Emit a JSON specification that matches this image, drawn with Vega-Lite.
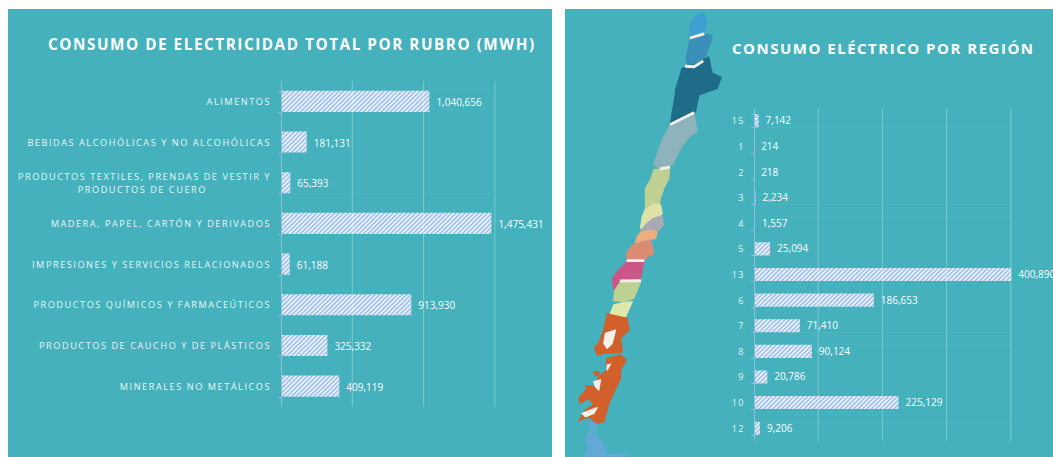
{"$schema":"https://vega.github.io/schema/vega-lite/v6.json","background":"white","padding":{"left":8,"top":5,"right":0,"bottom":0},"spacing":13,"bounds":"flush","config":{"view":{"stroke":null}},"hconcat":[
{"width":544,"height":448,"view":{"fill":"#44b1bd","stroke":null},
"title":{"text":{"expr":"join(split('CONSUMO DE ELECTRICIDAD TOTAL POR RUBRO (MWH)',''),'\u200a')"},"anchor":"start","frame":"group","dx":40,"offset":-48,"color":"white","font":"Open Sans","fontWeight":"bold","fontSize":15.3},
"resolve":{"scale":{"y":"independent"}},
"layer":[
{"data":{"values":[{"rubro":"ALIMENTOS","mwh":1040656},{"rubro":"BEBIDAS ALCOHÓLICAS Y NO ALCOHÓLICAS","mwh":181131},{"rubro":"PRODUCTOS TEXTILES, PRENDAS DE VESTIR Y PRODUCTOS DE CUERO","mwh":65393},{"rubro":"MADERA, PAPEL, CARTÓN Y DERIVADOS","mwh":1475431},{"rubro":"IMPRESIONES Y SERVICIOS RELACIONADOS","mwh":61188},{"rubro":"PRODUCTOS QUÍMICOS Y FARMACEÚTICOS","mwh":913930},{"rubro":"PRODUCTOS DE CAUCHO Y DE PLÁSTICOS","mwh":325332},{"rubro":"MINERALES NO METÁLICOS","mwh":409119}]},
"encoding":{"y":{"field":"rubro","type":"nominal","sort":null,"title":null,"scale":{"domain":["ALIMENTOS","BEBIDAS ALCOHÓLICAS Y NO ALCOHÓLICAS","PRODUCTOS TEXTILES, PRENDAS DE VESTIR Y PRODUCTOS DE CUERO","MADERA, PAPEL, CARTÓN Y DERIVADOS","IMPRESIONES Y SERVICIOS RELACIONADOS","PRODUCTOS QUÍMICOS Y FARMACEÚTICOS","PRODUCTOS DE CAUCHO Y DE PLÁSTICOS","MINERALES NO METÁLICOS"],"range":[72,397.5],"paddingInner":0.48,"paddingOuter":0.24},"axis":{"orient":"left","offset":-273,"zindex":1,"domainColor":"#8fbfdc","tickColor":"#8fbfdc","tickSize":3,"tickBand":"extent","grid":false,"labelPadding":9,"labelColor":"#eaf6f6","labelFont":"Open Sans","labelFontSize":9.2,"labelLimit":400,"labelOverlap":false,"labelBound":false,"labelLineHeight":13,"labelOffset":{"condition":{"test":"indexof(datum.label,'CUERO')>=0","value":-6.5},"value":0},"labelExpr":"indexof(datum.label,'CUERO')>=0 ? [join(split('PRODUCTOS TEXTILES, PRENDAS DE VESTIR Y',''),'\u2009'), join(split('PRODUCTOS DE CUERO\u00a0\u00a0\u00a0\u00a0\u00a0\u00a0\u00a0\u00a0\u00a0\u00a0\u00a0\u00a0\u00a0\u00a0\u00a0\u00a0\u200b',''),'\u2009')] : join(split(datum.label,''),'\u2009')"}}},
"layer":[
{"mark":{"type":"bar","fill":{"gradient":"linear","x1":0,"y1":0,"x2":1.3184,"y2":0.1325,"stops":[{"offset":0,"color":"#8db5ea"},{"offset":0.008,"color":"#fff"},{"offset":0.016,"color":"#8db5ea"},{"offset":0.024,"color":"#fff"},{"offset":0.032,"color":"#8db5ea"},{"offset":0.04,"color":"#fff"},{"offset":0.048,"color":"#8db5ea"},{"offset":0.056,"color":"#fff"},{"offset":0.064,"color":"#8db5ea"},{"offset":0.072,"color":"#fff"},{"offset":0.08,"color":"#8db5ea"},{"offset":0.088,"color":"#fff"},{"offset":0.096,"color":"#8db5ea"},{"offset":0.104,"color":"#fff"},{"offset":0.112,"color":"#8db5ea"},{"offset":0.12,"color":"#fff"},{"offset":0.128,"color":"#8db5ea"},{"offset":0.136,"color":"#fff"},{"offset":0.144,"color":"#8db5ea"},{"offset":0.152,"color":"#fff"},{"offset":0.16,"color":"#8db5ea"},{"offset":0.168,"color":"#fff"},{"offset":0.176,"color":"#8db5ea"},{"offset":0.184,"color":"#fff"},{"offset":0.192,"color":"#8db5ea"},{"offset":0.2,"color":"#fff"},{"offset":0.208,"color":"#8db5ea"},{"offset":0.216,"color":"#fff"},{"offset":0.224,"color":"#8db5ea"},{"offset":0.232,"color":"#fff"},{"offset":0.24,"color":"#8db5ea"},{"offset":0.248,"color":"#fff"},{"offset":0.256,"color":"#8db5ea"},{"offset":0.264,"color":"#fff"},{"offset":0.272,"color":"#8db5ea"},{"offset":0.28,"color":"#fff"},{"offset":0.288,"color":"#8db5ea"},{"offset":0.296,"color":"#fff"},{"offset":0.304,"color":"#8db5ea"},{"offset":0.312,"color":"#fff"},{"offset":0.32,"color":"#8db5ea"},{"offset":0.328,"color":"#fff"},{"offset":0.336,"color":"#8db5ea"},{"offset":0.344,"color":"#fff"},{"offset":0.352,"color":"#8db5ea"},{"offset":0.36,"color":"#fff"},{"offset":0.368,"color":"#8db5ea"},{"offset":0.376,"color":"#fff"},{"offset":0.384,"color":"#8db5ea"},{"offset":0.392,"color":"#fff"},{"offset":0.4,"color":"#8db5ea"},{"offset":0.408,"color":"#fff"},{"offset":0.416,"color":"#8db5ea"},{"offset":0.424,"color":"#fff"},{"offset":0.432,"color":"#8db5ea"},{"offset":0.44,"color":"#fff"},{"offset":0.448,"color":"#8db5ea"},{"offset":0.456,"color":"#fff"},{"offset":0.464,"color":"#8db5ea"},{"offset":0.472,"color":"#fff"},{"offset":0.48,"color":"#8db5ea"},{"offset":0.488,"color":"#fff"},{"offset":0.496,"color":"#8db5ea"},{"offset":0.504,"color":"#fff"},{"offset":0.512,"color":"#8db5ea"},{"offset":0.52,"color":"#fff"},{"offset":0.528,"color":"#8db5ea"},{"offset":0.536,"color":"#fff"},{"offset":0.544,"color":"#8db5ea"},{"offset":0.552,"color":"#fff"},{"offset":0.56,"color":"#8db5ea"},{"offset":0.568,"color":"#fff"},{"offset":0.576,"color":"#8db5ea"},{"offset":0.584,"color":"#fff"},{"offset":0.592,"color":"#8db5ea"},{"offset":0.6,"color":"#fff"},{"offset":0.608,"color":"#8db5ea"},{"offset":0.616,"color":"#fff"},{"offset":0.624,"color":"#8db5ea"},{"offset":0.632,"color":"#fff"},{"offset":0.64,"color":"#8db5ea"},{"offset":0.648,"color":"#fff"},{"offset":0.656,"color":"#8db5ea"},{"offset":0.664,"color":"#fff"},{"offset":0.672,"color":"#8db5ea"},{"offset":0.68,"color":"#fff"},{"offset":0.688,"color":"#8db5ea"},{"offset":0.696,"color":"#fff"},{"offset":0.704,"color":"#8db5ea"},{"offset":0.712,"color":"#fff"},{"offset":0.72,"color":"#8db5ea"},{"offset":0.728,"color":"#fff"},{"offset":0.736,"color":"#8db5ea"},{"offset":0.744,"color":"#fff"},{"offset":0.752,"color":"#8db5ea"},{"offset":0.76,"color":"#fff"},{"offset":0.768,"color":"#8db5ea"},{"offset":0.776,"color":"#fff"},{"offset":0.784,"color":"#8db5ea"},{"offset":0.792,"color":"#fff"},{"offset":0.8,"color":"#8db5ea"},{"offset":0.808,"color":"#fff"},{"offset":0.816,"color":"#8db5ea"},{"offset":0.824,"color":"#fff"},{"offset":0.832,"color":"#8db5ea"},{"offset":0.84,"color":"#fff"},{"offset":0.848,"color":"#8db5ea"},{"offset":0.856,"color":"#fff"},{"offset":0.864,"color":"#8db5ea"},{"offset":0.872,"color":"#fff"},{"offset":0.88,"color":"#8db5ea"},{"offset":0.888,"color":"#fff"},{"offset":0.896,"color":"#8db5ea"},{"offset":0.904,"color":"#fff"},{"offset":0.912,"color":"#8db5ea"},{"offset":0.92,"color":"#fff"},{"offset":0.928,"color":"#8db5ea"},{"offset":0.936,"color":"#fff"},{"offset":0.944,"color":"#8db5ea"},{"offset":0.952,"color":"#fff"},{"offset":0.96,"color":"#8db5ea"},{"offset":0.968,"color":"#fff"},{"offset":0.976,"color":"#8db5ea"},{"offset":0.984,"color":"#fff"},{"offset":0.992,"color":"#8db5ea"},{"offset":1,"color":"#fff"}]}},
"encoding":{"x":{"datum":0,"type":"quantitative","axis":null,"scale":{"domain":[-1914446,1900421],"nice":false,"zero":false}},"x2":{"datum":1480000}}},
{"mark":{"type":"bar","fill":"#44b1bd","height":{"band":1.05}},"encoding":{"x":{"field":"mwh","type":"quantitative","axis":null,"scale":{"domain":[-1914446,1900421],"nice":false,"zero":false}},"x2":{"datum":1490000}}},
{"mark":{"type":"text","align":"left","baseline":"middle","dx":7,"dy":1.5,"color":"white","font":"Open Sans","fontSize":10},"encoding":{"x":{"field":"mwh","type":"quantitative","axis":null,"scale":{"domain":[-1914446,1900421],"nice":false,"zero":false}},"text":{"field":"mwh","type":"quantitative","format":","}}}
]},
{"data":{"values":[{"grid":500000},{"grid":1000000},{"grid":1500000}]},"mark":{"type":"rule","color":"#ffffff","opacity":0.3,"strokeWidth":1},"encoding":{"x":{"field":"grid","type":"quantitative","axis":null,"scale":{"domain":[-1914446,1900421],"nice":false,"zero":false}},"y":{"datum":0,"type":"quantitative","axis":null,"scale":{"domain":[0,1],"range":[72,397.5]}},"y2":{"datum":1}}}
]},
{"width":488,"height":448,"view":{"fill":"#44b1bd","stroke":null},
"title":{"text":{"expr":"join(split('CONSUMO ELÉCTRICO POR REGIÓN',''),'\u200a')"},"anchor":"start","frame":"group","dx":167,"offset":-52,"color":"white","font":"Open Sans","fontWeight":"bold","fontSize":15},
"resolve":{"scale":{"y":"independent"}},
"layer":[
{"data":{"values":[
{"type":"Feature","properties":{"zona":"15"},"geometry":{"type":"Polygon","coordinates":[[[-69.33,-17.23],[-68.93,-17.9],[-69,-18.9],[-69.2,-19.3],[-70.5,-19.7],[-70.6,-18.9],[-70.33,-18.07],[-69.83,-17.57],[-69.33,-17.23]]]}},
{"type":"Feature","properties":{"zona":"1"},"geometry":{"type":"Polygon","coordinates":[[[-70.5,-19.8],[-69.1,-19.4],[-68.33,-19.57],[-68.5,-20.23],[-69,-21.57],[-69.17,-21.9],[-70,-22.4],[-70.83,-22.57],[-70.93,-21.9],[-70.67,-20.57],[-70.5,-19.8]]]}},
{"type":"Feature","properties":{"zona":"2"},"geometry":{"type":"Polygon","coordinates":[[[-69.2,-21.95],[-68.7,-21.7],[-68.33,-23.33],[-67.43,-23.73],[-67.83,-24.83],[-69.67,-25.5],[-70,-27.17],[-71,-27.67],[-72.5,-28.33],[-72,-25.33],[-72,-25],[-71.33,-22.83],[-70.83,-22.6],[-70,-22.45],[-69.2,-21.95]]]}},
{"type":"Feature","properties":{"zona":"3"},"geometry":{"type":"Polygon","coordinates":[[[-72.5,-28.5],[-70.17,-27.33],[-69.83,-29.17],[-70.5,-29.5],[-71.5,-30.83],[-72.33,-32.5],[-73.5,-32.83],[-74.17,-32.5],[-73.33,-30],[-72.67,-28.83],[-72.5,-28.5]]]}},
{"type":"Feature","properties":{"zona":"4"},"geometry":{"type":"Polygon","coordinates":[[[-74.17,-33],[-73.5,-32.9],[-72.6,-32.73],[-72.67,-33.83],[-73.17,-34.83],[-73.57,-36],[-73.57,-36.33],[-74.17,-36.33],[-75,-36.83],[-75,-34.83],[-74.5,-34],[-74.17,-33]]]}},
{"type":"Feature","properties":{"zona":"5"},"geometry":{"type":"Polygon","coordinates":[[[-75,-36.9],[-74.17,-36.4],[-73.5,-36.5],[-73.33,-37.37],[-74.3,-38],[-75,-38.8],[-75.5,-38.8],[-75.33,-37.7],[-75,-36.9]]]}},
{"type":"Feature","properties":{"zona":"13"},"geometry":{"type":"Polygon","coordinates":[[[-75,-38.5],[-74.2,-37.83],[-73.33,-37.6],[-73.23,-38.5],[-73.67,-39],[-74.5,-38.93],[-75.5,-39.17],[-75,-38.5]]]}},
{"type":"Feature","properties":{"zona":"6"},"geometry":{"type":"Polygon","coordinates":[[[-75.5,-39.27],[-74.5,-39],[-73.83,-39.17],[-74,-39.83],[-75,-40],[-76,-40.33],[-75.83,-39.67],[-75.5,-39.27]]]}},
{"type":"Feature","properties":{"zona":"7"},"geometry":{"type":"Polygon","coordinates":[[[-75.83,-40.33],[-74.5,-40.05],[-74.17,-41.33],[-75,-41.83],[-76.83,-41.83],[-76.9,-41.33],[-76.33,-40.5],[-75.83,-40.33]]]}},
{"type":"Feature","properties":{"zona":"8"},"geometry":{"type":"Polygon","coordinates":[[[-76.83,-42.17],[-75.17,-42.17],[-75.5,-43.83],[-77,-44],[-78.17,-45],[-78.3,-43.83],[-77.67,-43],[-76.83,-42.17]]]}},
{"type":"Feature","properties":{"zona":"9"},"geometry":{"type":"Polygon","coordinates":[[[-77.5,-44.17],[-76.33,-44.07],[-75.5,-44.17],[-76.17,-45.83],[-77.17,-46.17],[-78.17,-46.07],[-78.1,-45.1],[-77.5,-44.17]]]}},
{"type":"Feature","properties":{"zona":"14"},"geometry":{"type":"Polygon","coordinates":[[[-78.17,-46.5],[-77.17,-46.27],[-76.33,-46.17],[-77,-47.67],[-77.67,-47.83],[-78.5,-47.33],[-78.17,-46.5]]]}},
{"type":"Feature","properties":{"zona":"10"},"geometry":{"type":"MultiPolygon","coordinates":[[[[-78.83,-47.4],[-76.83,-47.83],[-76.67,-49],[-77.5,-49.83],[-77.33,-51.17],[-77.67,-51.27],[-79.17,-51.33],[-79.83,-51.5],[-80.07,-50.73],[-79.67,-50.33],[-79.17,-49],[-78.83,-47.4]]],[[[-78.83,-51.83],[-77.5,-51.5],[-76.93,-52],[-77.5,-53],[-77.5,-53.83],[-78.67,-56.33],[-79.17,-58.17],[-79.83,-58.33],[-80.67,-57.67],[-81.67,-58.07],[-81,-57],[-80.17,-56.5],[-80.67,-55.83],[-81.5,-56.33],[-81.67,-55.83],[-80.83,-54.83],[-81,-54.6],[-80.17,-54.67],[-79.67,-53.67],[-78.83,-53],[-78.93,-52.33],[-78.83,-51.83]]],[[[-80.17,-53.17],[-79.67,-53.17],[-79.67,-53.5],[-80,-53.6],[-80.17,-53.17]]]]}},
{"type":"Feature","properties":{"zona":"12"},"geometry":{"type":"Polygon","coordinates":[[[-80.6,-58.17],[-79.83,-58.4],[-80.17,-59.33],[-79.33,-60.17],[-78.83,-61.5],[-76.67,-61.33],[-77.5,-61.7],[-81,-61.7],[-80.67,-60.33],[-81,-60.17],[-80.5,-59],[-80.6,-58.17]]]}},
{"type":"Feature","properties":{"zona":"costa"},"geometry":{"type":"MultiPolygon","coordinates":[[[[-79,-49.33],[-78,-49],[-78.33,-50.33],[-78.83,-50.83],[-79.17,-50.33],[-79,-49.33]]],[[[-80.17,-54.17],[-79.5,-54],[-79.67,-55],[-80,-54.67],[-80.17,-54.17]]],[[[-81.33,-57.33],[-79.83,-56.77],[-80.17,-57.33],[-81,-57.67],[-81.33,-57.33]]],[[[-78.83,-52.5],[-78.5,-52.4],[-78.83,-53],[-78.83,-52.5]]],[[[-70.5,-19.72],[-69.2,-19.32],[-69.15,-19.47],[-70.5,-19.87],[-70.5,-19.72]]],[[[-71,-22.55],[-70.17,-22.6],[-69.3,-22.05],[-69.25,-22.2],[-70.1,-22.75],[-71,-22.7],[-71,-22.55]]],[[[-72.5,-28.37],[-70.2,-27.22],[-70.17,-27.37],[-72.5,-28.52],[-72.5,-28.37]]],[[[-76.83,-41.98],[-75.17,-41.98],[-75.17,-42.13],[-76.83,-42.13],[-76.83,-41.98]]],[[[-77.5,-44.02],[-75.5,-44],[-75.5,-44.15],[-77.5,-44.17],[-77.5,-44.02]]],[[[-73.5,-32.8],[-72.6,-32.65],[-72.6,-32.78],[-73.5,-32.95],[-73.5,-32.8]]]]}}
]},
"mark":{"type":"geoshape","clip":true,"strokeWidth":1.3,"strokeJoin":"round"},"projection":{"type":"identity","reflectY":true,"scale":10,"translate":[830.5,-169]},
"encoding":{"color":{"field":"properties.zona","type":"nominal","legend":null,"scale":{"domain":["15","1","2","3","4","5","13","6","7","8","9","14","10","12","costa"],"range":["#3f9fd2","#3a8fb8","#1f6c88","#8fb3bd","#c0cf92","#dfe2a4","#a7a9b3","#ecae7e","#dc8b73","#cc5687","#bcd192","#dfe8a9","#d1602a","#62a9d8","#f3f1ea"]}},"stroke":{"field":"properties.zona","type":"nominal","legend":null,"scale":{"domain":["15","1","2","3","4","5","13","6","7","8","9","14","10","12","costa"],"range":["#3f9fd2","#3a8fb8","#1f6c88","#8fb3bd","#c0cf92","#dfe2a4","#a7a9b3","#ecae7e","#dc8b73","#cc5687","#bcd192","#dfe8a9","#d1602a","#62a9d8","#f3f1ea"]}}}},
{"data":{"values":[{"region":"15","mwh":7142},{"region":"1","mwh":214},{"region":"2","mwh":218},{"region":"3","mwh":2234},{"region":"4","mwh":1557},{"region":"5","mwh":25094},{"region":"13","mwh":400890},{"region":"6","mwh":186653},{"region":"7","mwh":71410},{"region":"8","mwh":90124},{"region":"9","mwh":20786},{"region":"10","mwh":225129},{"region":"12","mwh":9206}]},
"encoding":{"y":{"field":"region","type":"nominal","sort":null,"title":null,"scale":{"domain":["15","1","2","3","4","5","13","6","7","8","9","10","12"],"range":[99,432],"paddingInner":0.49,"paddingOuter":0.245},"axis":{"orient":"left","offset":-189,"zindex":1,"domainColor":"#8fbfdc","tickColor":"#8fbfdc","tickSize":3,"tickBand":"extent","grid":false,"labelPadding":8,"labelColor":"#eaf6f6","labelFont":"Open Sans","labelFontSize":9,"labelOverlap":false,"labelBound":false,"labelExpr":"join(split(datum.label,''),'\u2009')"}}},
"layer":[
{"mark":{"type":"bar","fill":{"gradient":"linear","x1":0,"y1":0,"x2":1.086,"y2":0.055,"stops":[{"offset":0,"color":"#8db5ea"},{"offset":0.008,"color":"#fff"},{"offset":0.016,"color":"#8db5ea"},{"offset":0.024,"color":"#fff"},{"offset":0.032,"color":"#8db5ea"},{"offset":0.04,"color":"#fff"},{"offset":0.048,"color":"#8db5ea"},{"offset":0.056,"color":"#fff"},{"offset":0.064,"color":"#8db5ea"},{"offset":0.072,"color":"#fff"},{"offset":0.08,"color":"#8db5ea"},{"offset":0.088,"color":"#fff"},{"offset":0.096,"color":"#8db5ea"},{"offset":0.104,"color":"#fff"},{"offset":0.112,"color":"#8db5ea"},{"offset":0.12,"color":"#fff"},{"offset":0.128,"color":"#8db5ea"},{"offset":0.136,"color":"#fff"},{"offset":0.144,"color":"#8db5ea"},{"offset":0.152,"color":"#fff"},{"offset":0.16,"color":"#8db5ea"},{"offset":0.168,"color":"#fff"},{"offset":0.176,"color":"#8db5ea"},{"offset":0.184,"color":"#fff"},{"offset":0.192,"color":"#8db5ea"},{"offset":0.2,"color":"#fff"},{"offset":0.208,"color":"#8db5ea"},{"offset":0.216,"color":"#fff"},{"offset":0.224,"color":"#8db5ea"},{"offset":0.232,"color":"#fff"},{"offset":0.24,"color":"#8db5ea"},{"offset":0.248,"color":"#fff"},{"offset":0.256,"color":"#8db5ea"},{"offset":0.264,"color":"#fff"},{"offset":0.272,"color":"#8db5ea"},{"offset":0.28,"color":"#fff"},{"offset":0.288,"color":"#8db5ea"},{"offset":0.296,"color":"#fff"},{"offset":0.304,"color":"#8db5ea"},{"offset":0.312,"color":"#fff"},{"offset":0.32,"color":"#8db5ea"},{"offset":0.328,"color":"#fff"},{"offset":0.336,"color":"#8db5ea"},{"offset":0.344,"color":"#fff"},{"offset":0.352,"color":"#8db5ea"},{"offset":0.36,"color":"#fff"},{"offset":0.368,"color":"#8db5ea"},{"offset":0.376,"color":"#fff"},{"offset":0.384,"color":"#8db5ea"},{"offset":0.392,"color":"#fff"},{"offset":0.4,"color":"#8db5ea"},{"offset":0.408,"color":"#fff"},{"offset":0.416,"color":"#8db5ea"},{"offset":0.424,"color":"#fff"},{"offset":0.432,"color":"#8db5ea"},{"offset":0.44,"color":"#fff"},{"offset":0.448,"color":"#8db5ea"},{"offset":0.456,"color":"#fff"},{"offset":0.464,"color":"#8db5ea"},{"offset":0.472,"color":"#fff"},{"offset":0.48,"color":"#8db5ea"},{"offset":0.488,"color":"#fff"},{"offset":0.496,"color":"#8db5ea"},{"offset":0.504,"color":"#fff"},{"offset":0.512,"color":"#8db5ea"},{"offset":0.52,"color":"#fff"},{"offset":0.528,"color":"#8db5ea"},{"offset":0.536,"color":"#fff"},{"offset":0.544,"color":"#8db5ea"},{"offset":0.552,"color":"#fff"},{"offset":0.56,"color":"#8db5ea"},{"offset":0.568,"color":"#fff"},{"offset":0.576,"color":"#8db5ea"},{"offset":0.584,"color":"#fff"},{"offset":0.592,"color":"#8db5ea"},{"offset":0.6,"color":"#fff"},{"offset":0.608,"color":"#8db5ea"},{"offset":0.616,"color":"#fff"},{"offset":0.624,"color":"#8db5ea"},{"offset":0.632,"color":"#fff"},{"offset":0.64,"color":"#8db5ea"},{"offset":0.648,"color":"#fff"},{"offset":0.656,"color":"#8db5ea"},{"offset":0.664,"color":"#fff"},{"offset":0.672,"color":"#8db5ea"},{"offset":0.68,"color":"#fff"},{"offset":0.688,"color":"#8db5ea"},{"offset":0.696,"color":"#fff"},{"offset":0.704,"color":"#8db5ea"},{"offset":0.712,"color":"#fff"},{"offset":0.72,"color":"#8db5ea"},{"offset":0.728,"color":"#fff"},{"offset":0.736,"color":"#8db5ea"},{"offset":0.744,"color":"#fff"},{"offset":0.752,"color":"#8db5ea"},{"offset":0.76,"color":"#fff"},{"offset":0.768,"color":"#8db5ea"},{"offset":0.776,"color":"#fff"},{"offset":0.784,"color":"#8db5ea"},{"offset":0.792,"color":"#fff"},{"offset":0.8,"color":"#8db5ea"},{"offset":0.808,"color":"#fff"},{"offset":0.816,"color":"#8db5ea"},{"offset":0.824,"color":"#fff"},{"offset":0.832,"color":"#8db5ea"},{"offset":0.84,"color":"#fff"},{"offset":0.848,"color":"#8db5ea"},{"offset":0.856,"color":"#fff"},{"offset":0.864,"color":"#8db5ea"},{"offset":0.872,"color":"#fff"},{"offset":0.88,"color":"#8db5ea"},{"offset":0.888,"color":"#fff"},{"offset":0.896,"color":"#8db5ea"},{"offset":0.904,"color":"#fff"},{"offset":0.912,"color":"#8db5ea"},{"offset":0.92,"color":"#fff"},{"offset":0.928,"color":"#8db5ea"},{"offset":0.936,"color":"#fff"},{"offset":0.944,"color":"#8db5ea"},{"offset":0.952,"color":"#fff"},{"offset":0.96,"color":"#8db5ea"},{"offset":0.968,"color":"#fff"},{"offset":0.976,"color":"#8db5ea"},{"offset":0.984,"color":"#fff"},{"offset":0.992,"color":"#8db5ea"},{"offset":1,"color":"#fff"}]}},
"encoding":{"x":{"datum":0,"type":"quantitative","axis":null,"scale":{"domain":[-294393,465732],"nice":false,"zero":false}},"x2":{"datum":402000}}},
{"mark":{"type":"bar","fill":"#44b1bd","height":{"band":1.08}},"encoding":{"x":{"field":"mwh","type":"quantitative","axis":null,"scale":{"domain":[-294393,465732],"nice":false,"zero":false}},"x2":{"datum":405000}}},
{"mark":{"type":"text","align":"left","baseline":"middle","dx":7,"dy":0.5,"color":"white","font":"Open Sans","fontSize":10,"clip":true},"encoding":{"x":{"field":"mwh","type":"quantitative","axis":null,"scale":{"domain":[-294393,465732],"nice":false,"zero":false}},"text":{"field":"mwh","type":"quantitative","format":","}}}
]},
{"data":{"values":[{"grid":100000},{"grid":200000},{"grid":300000},{"grid":400000}]},"mark":{"type":"rule","color":"#ffffff","opacity":0.3,"strokeWidth":1},"encoding":{"x":{"field":"grid","type":"quantitative","axis":null,"scale":{"domain":[-294393,465732],"nice":false,"zero":false}},"y":{"datum":0,"type":"quantitative","axis":null,"scale":{"domain":[0,1],"range":[99,432]}},"y2":{"datum":1}}}
]}
]}
